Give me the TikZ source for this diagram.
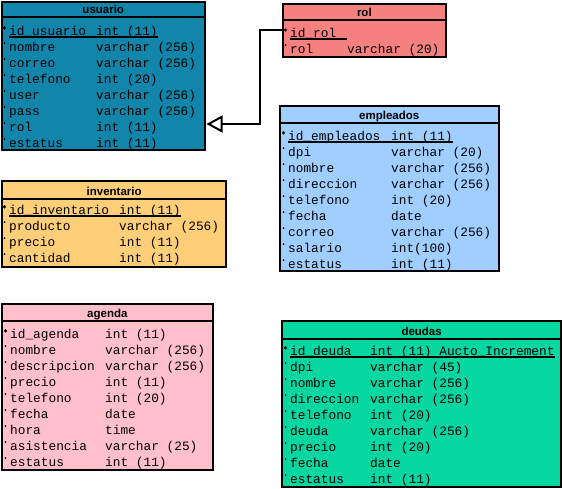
\documentclass[tikz,border=0pt]{standalone}
\usepackage{fontspec}
\setmonofont{Liberation Mono}
\newfontfamily\sansbold{Liberation Sans}
\usetikzlibrary{arrows.meta, calc, positioning}
\definecolor{cusuario}{RGB}{17,133,170}
\definecolor{crol}{RGB}{245,128,128}
\definecolor{cempleados}{RGB}{160,207,255}
\definecolor{cinventario}{RGB}{255,206,120}
\definecolor{cagenda}{RGB}{255,192,203}
\definecolor{cdeudas}{RGB}{6,214,160}
\newcommand{\campofont}{\ttfamily\fontsize{12.8}{14}\selectfont}
\newcommand{\titulofont}{\sansbold\bfseries\fontsize{11.5}{13}\selectfont}
\tikzset{
  tabla/.style={draw, line width=2pt, anchor=north west, inner sep=0pt},
  borde/.style={line width=2pt},
  titulo/.style={font=\titulofont, anchor=base, inner sep=0pt},
  campo/.style={font=\campofont, anchor=base west, inner sep=0pt},
  subr/.style={line width=1.2pt},
  rel/.style={line width=2pt, -{Triangle[open, length=16pt, width=17pt]}}
}

\begin{document}
\begin{tikzpicture}[x=1pt, y=-1pt]
    \useasboundingbox (0,0) rectangle (562,488);

    % usuario
    \node[tabla, fill=cusuario, minimum width=202.5pt, minimum height=148pt] (usuario) at (1,1) {};
    \draw[borde] ([yshift=-16pt]usuario.north west) -- ([yshift=-16pt]usuario.north east);
    \node[titulo] (usuario-titulo) at ([yshift=-12.5pt]usuario.north) {usuario};
    \foreach \n/\t [count=\i from 0] in {id\_usuario/int (11), nombre/varchar (256), correo/varchar (256),
        telefono/int (20), user/varchar (256), pass/varchar (256), rol/int (11), estatus/int (11)} {
        \node[campo] (usuario-\i) at (9, 35+16*\i) {\n};
        \node[campo] (usuario-t\i) at (96, 35+16*\i) {\t};
        \fill (4.5, 27+16*\i) circle (1pt);
    }
    \fill (4.5, 28) circle (1.6pt);
    \draw[subr] ([yshift=-2pt]usuario-0.base west) -- ([yshift=-2pt]usuario-t0.base east);

    % rol
    \node[tabla, fill=crol, minimum width=163.3pt, minimum height=53.5pt] (rol) at (281.7,2.5) {};
    \draw[borde] ([yshift=-17.5pt]rol.north west) -- ([yshift=-17.5pt]rol.north east);
    \node[titulo] (rol-titulo) at ([yshift=-14pt]rol.north) {rol};
    \node[campo] (rol-0) at (290, 37) {id\_rol};
    \node[campo] (rol-1) at (290, 53) {rol};
    \node[campo] (rol-t1) at (347, 53) {varchar (20)};
    \fill (285.5, 30) circle (1.6pt);
    \fill (285.5, 45) circle (1pt);
    \draw[subr] ([yshift=-2pt]rol-0.base west) -- ([yshift=-2pt]rol-t1.base west |- rol-0.base);

    % empleados
    \node[tabla, fill=cempleados, minimum width=219pt, minimum height=165pt] (empleados) at (278.7,105.3) {};
    \draw[borde] ([yshift=-18pt]empleados.north west) -- ([yshift=-18pt]empleados.north east);
    \node[titulo] (empleados-titulo) at ([yshift=-14.5pt]empleados.north) {empleados};
    \foreach \n/\t [count=\i from 0] in {id\_empleados/int (11), dpi/varchar (20), nombre/varchar (256),
        direccion/varchar (256), telefono/int (20), fecha/date, correo/varchar (256),
        salario/int(100), estatus/int (11)} {
        \node[campo] (empleados-\i) at (288, 140+16*\i) {\n};
        \node[campo] (empleados-t\i) at (391, 140+16*\i) {\t};
        \fill (283.5, 132+16*\i) circle (1pt);
    }
    \fill (283.5, 133) circle (1.6pt);
    \draw[subr] ([yshift=-2pt]empleados-0.base west) -- ([yshift=-2pt]empleados-t0.base east);

    % inventario
    \node[tabla, fill=cinventario, minimum width=224.3pt, minimum height=86pt] (inventario) at (1,180.3) {};
    \draw[borde] ([yshift=-18.2pt]inventario.north west) -- ([yshift=-18.2pt]inventario.north east);
    \node[titulo] (inventario-titulo) at ([yshift=-14.7pt]inventario.north) {inventario};
    \foreach \n/\t [count=\i from 0] in {id\_inventario/int (11), producto/varchar (256),
        precio/int (11), cantidad/int (11)} {
        \node[campo] (inventario-\i) at (9, 214+16*\i) {\n};
        \node[campo] (inventario-t\i) at (119, 214+16*\i) {\t};
        \fill (4.5, 206+16*\i) circle (1pt);
    }
    \fill (4.5, 207) circle (1.6pt);
    \draw[subr] ([yshift=-2pt]inventario-0.base west) -- ([yshift=-2pt]inventario-t0.base east);

    % agenda
    \node[tabla, fill=cagenda, minimum width=210.7pt, minimum height=166.3pt] (agenda) at (1,303) {};
    \draw[borde] ([yshift=-18pt]agenda.north west) -- ([yshift=-18pt]agenda.north east);
    \node[titulo] (agenda-titulo) at ([yshift=-14.5pt]agenda.north) {agenda};
    \foreach \n/\t [count=\i from 0] in {id\_agenda/int (11), nombre/varchar (256), descripcion/varchar (256),
        precio/int (11), telefono/int (20), fecha/date, hora/time, asistencia/varchar (25),
        estatus/int (11)} {
        \node[campo] (agenda-\i) at (10, 338+16*\i) {\n};
        \node[campo] (agenda-t\i) at (105, 338+16*\i) {\t};
        \fill (5.5, 330+16*\i) circle (1pt);
    }
    \fill (5.5, 331) circle (1.6pt);

    % deudas
    \node[tabla, fill=cdeudas, minimum width=279.3pt, minimum height=166.3pt] (deudas) at (281,319.7) {};
    \draw[borde] ([yshift=-19pt]deudas.north west) -- ([yshift=-19pt]deudas.north east);
    \node[titulo] (deudas-titulo) at ([yshift=-15.5pt]deudas.north) {deudas};
    \foreach \n/\t [count=\i from 0] in {id\_deuda/int (11) Aucto\_Increment, dpi/varchar (45),
        nombre/varchar (256), direccion/varchar (256), telefono/int (20), deuda/varchar (256),
        precio/int (20), fecha/date, estatus/int (11)} {
        \node[campo] (deudas-\i) at (290, 355+16*\i) {\n};
        \node[campo] (deudas-t\i) at (370, 355+16*\i) {\t};
        \fill (285.5, 347+16*\i) circle (1pt);
    }
    \fill (285.5, 348) circle (1.6pt);
    \draw[subr] ([yshift=-2pt]deudas-0.base west) -- ([yshift=-2pt]deudas-t0.base east);

    % relacion rol -> usuario
    \draw[rel] ([yshift=-27.5pt]rol.north west) -- ++(-21.7,0) |- ([xshift=1pt, yshift=-123pt]usuario.north east);
\end{tikzpicture}
\end{document}
